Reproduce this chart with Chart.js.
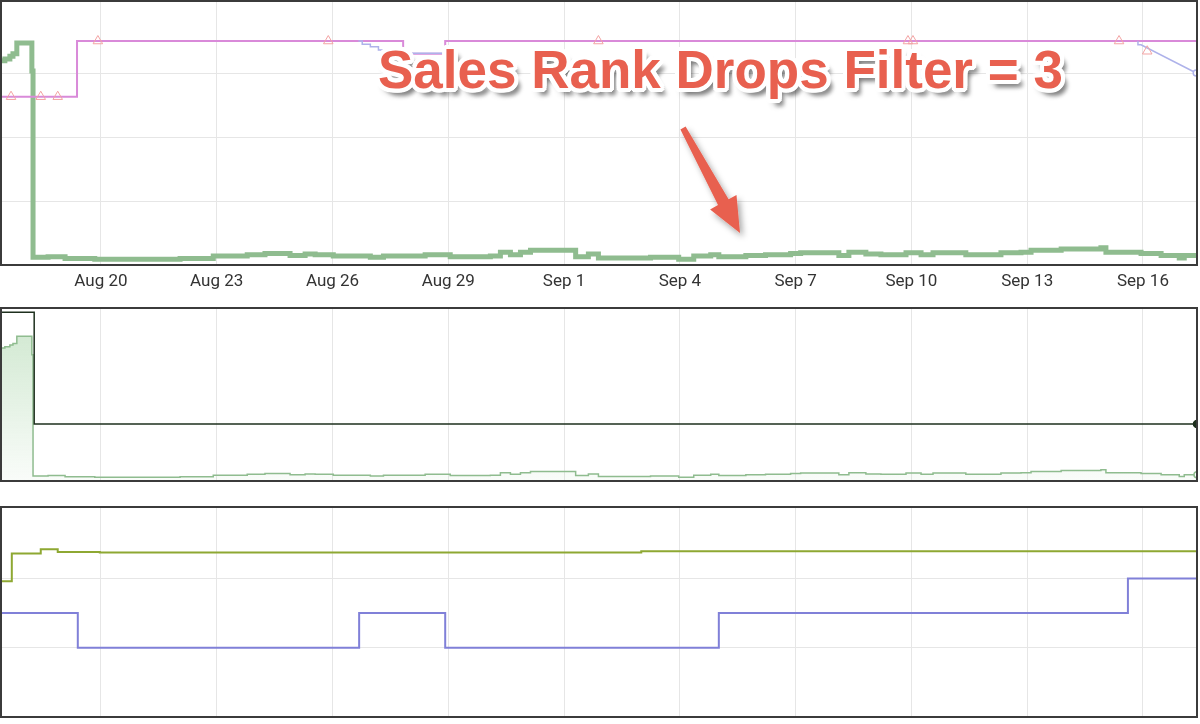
<!DOCTYPE html>
<html>
<head>
<meta charset="utf-8">
<script src="https://cdn.jsdelivr.net/npm/chart.js@4.4.1/dist/chart.umd.min.js"></script>
<style>
    body { margin: 0; background: #fff; width: 1200px; height: 724px; overflow: hidden; position: relative; font-family: Roboto, sans-serif; }
    .panel { position: absolute; left: 0; width: 1200px; }
    #p1 { top: 0; height: 300px; }
    #p2 { top: 307px; height: 175px; }
    #p3 { top: 506px; height: 212px; }
    #title {
        position: absolute; left: 378px; top: 39px; line-height: 53px;
        font: bold 53px "Liberation Sans", Arial, sans-serif; color: #e8604f; white-space: nowrap;
        text-shadow:
            4px 0 0 #fff, -4px 0 0 #fff, 0 4px 0 #fff, 0 -4px 0 #fff,
            3px 3px 0 #fff, -3px 3px 0 #fff, 3px -3px 0 #fff, -3px -3px 0 #fff,
            4px 2px 0 #fff, -4px 2px 0 #fff, 4px -2px 0 #fff, -4px -2px 0 #fff,
            2px 4px 0 #fff, -2px 4px 0 #fff, 2px -4px 0 #fff, -2px -4px 0 #fff,
            6px 7px 4px rgba(0,0,0,0.4), 3px 6px 6px rgba(0,0,0,0.3);
    }
    #arrow { position: absolute; left: 0; top: 0; }
</style>
</head>
<body>
<div class="panel" id="p1"><canvas id="c1"></canvas></div>
<div class="panel" id="p2"><canvas id="c2"></canvas></div>
<div class="panel" id="p3"><canvas id="c3"></canvas></div>
<div id="title">Sales Rank Drops Filter = 3</div>
<svg id="arrow" width="1200" height="300">
    <defs>
        <filter id="sh" x="-50%" y="-50%" width="200%" height="200%">
            <feDropShadow dx="3" dy="4" stdDeviation="3" flood-color="#000" flood-opacity="0.35"/>
        </filter>
    </defs>
    <polygon points="685.6,126.6 728.6,199.3 736.5,195 740,233 710.1,209.4 718,205.1 680.4,129.4" fill="#e8604f" filter="url(#sh)"/>
</svg>
<script>
// x values are days counted from Aug 1 (Sep 1 = 32)
const tickDays = [20, 23, 26, 29, 32, 35, 38, 41, 44, 47];
const tickLabels = ["Aug 20", "Aug 23", "Aug 26", "Aug 29", "Sep 1", "Sep 4", "Sep 7", "Sep 10", "Sep 13", "Sep 16"];
const xMin = 17.41, xMax = 48.4;

// sales rank (green), shown in panel 1 and 2
const rankDays = [17.41,17.51,17.64,17.72,17.82,18.21,18.24,18.63,19.07,19.84,20.75,22.05,22.91,23.79,24.25,24.90,25.29,25.55,26.02,26.98,27.32,28.40,29.05,30.09,30.35,30.61,30.87,31.13,32.30,32.63,32.89,34.24,34.97,35.36,35.80,36.01,36.71,37.22,37.87,38.13,39.12,39.38,39.82,40.21,40.86,41.25,41.56,42.41,42.67,43.32,43.84,44.10,44.88,45.91,46.04,46.95,47.47,47.94,48.07,48.40];
const rankValues = [3.19,3.22,3.26,3.30,3.47,3.03,0.12,0.13,0.10,0.09,0.09,0.10,0.14,0.16,0.18,0.15,0.17,0.16,0.14,0.12,0.14,0.16,0.13,0.14,0.20,0.16,0.20,0.23,0.13,0.17,0.11,0.12,0.09,0.14,0.16,0.13,0.15,0.16,0.18,0.19,0.15,0.20,0.17,0.16,0.19,0.16,0.19,0.16,0.16,0.19,0.20,0.23,0.25,0.27,0.20,0.18,0.15,0.11,0.15,0.15];

// price (pink)
const priceDays = [17.41, 19.38, 27.83, 28.92, 48.4];
const priceValues = [2.63, 3.5, 3.3, 3.5, 3.5];

// new price (lavender), two pieces
const newStepDays = [26.67, 26.77, 26.98, 27.19, 27.5, 28.92];
const newStepValues = [3.5, 3.45, 3.41, 3.36, 3.31, 3.31];
const newTailDays = [46.87, 46.87, 46.95, 48.38];
const newTailValues = [3.5, 3.44, 3.44, 3.0];

// price change markers (triangles)
const markerDays = [17.67, 18.44, 18.88, 19.92, 25.89, 32.89, 40.91, 41.04, 46.38, 47.11];
const markerValues = [2.63, 2.63, 2.63, 3.5, 3.5, 3.5, 3.5, 3.5, 3.5, 3.34];

// panel 2 black line
const offerDays = [17.41, 18.27, 48.4];
const offerValues = [4.05, 1.37, 1.37];

// panel 3
const ratingDays = [17.41, 17.69, 18.44, 18.88, 19.97, 34.0, 48.4];
const ratingValues = [3.92, 4.72, 4.84, 4.76, 4.75, 4.78, 4.80];
const countDays = [17.41, 19.40, 26.69, 28.92, 36.01, 46.61, 48.4];
const countValues = [3, 2, 3, 2, 3, 4, 4];

const pts = (xs, ys) => xs.map((x, i) => ({ x: x, y: ys[i] }));

const framePlugin = {
    id: "frame",
    afterDraw(chart) {
        const { ctx, chartArea: a } = chart;
        ctx.save();
        ctx.strokeStyle = "#3b3b3b";
        ctx.lineWidth = 2;
        ctx.strokeRect(a.left, a.top, a.right - a.left, a.bottom - a.top);
        ctx.restore();
    },
};

function makeOptions(yMax, yStep, yGrid, showTicks) {
    return {
        responsive: true,
        maintainAspectRatio: false,
        animation: false,
        layout: { autoPadding: false, padding: { left: 1, right: 3, top: 1, bottom: showTicks ? 0 : 1 } },
        plugins: { legend: { display: false }, tooltip: { enabled: false } },
        elements: { point: { radius: 0 } },
        scales: {
            x: {
                type: "linear",
                min: xMin,
                max: xMax,
                afterBuildTicks: (s) => { s.ticks = tickDays.map((v) => ({ value: v })); },
                afterFit: (s) => { s.height = showTicks ? 35 : 0; },
                grid: { color: "#e6e6e6", drawTicks: false },
                border: { display: false },
                ticks: {
                    display: showTicks,
                    padding: 7,
                    maxRotation: 0,
                    autoSkip: false,
                    color: "#333",
                    font: { family: "Roboto", size: 17 },
                    callback: (v, i) => tickLabels[i],
                },
            },
            y: {
                min: 0,
                max: yMax,
                afterFit: (s) => { s.width = 0; },
                grid: { display: yGrid, color: "#e6e6e6", drawTicks: false },
                border: { display: false },
                ticks: { display: false, stepSize: yStep },
            },
        },
    };
}

// panel 1
new Chart(document.getElementById("c1"), {
    type: "line",
    data: {
        datasets: [
            {
                data: pts(markerDays, markerValues),
                showLine: false,
                pointStyle: "triangle",
                pointRadius: 5.5,
                pointBorderWidth: 1,
                pointBorderColor: "#f3a3a3",
                pointBackgroundColor: "rgba(255,255,255,0)",
            },
            {
                data: pts(newStepDays, newStepValues),
                stepped: true,
                borderColor: "#aeb2ea",
                borderWidth: 1.5,
            },
            {
                data: pts(newTailDays, newTailValues),
                borderColor: "#aeb2ea",
                borderWidth: 1.5,
                pointRadius: (c) => (c.dataIndex === newTailDays.length - 1 ? 3 : 0),
                pointBackgroundColor: "#fff",
                pointBorderColor: "#aeb2ea",
            },
            {
                data: pts(priceDays, priceValues),
                stepped: true,
                borderColor: "#d98ad9",
                borderWidth: 2,
            },
            {
                data: pts(rankDays, rankValues),
                stepped: true,
                borderColor: "#8fbc8f",
                borderWidth: 5,
            },
        ],
    },
    options: makeOptions(4.125, 1, true, true),
    plugins: [framePlugin],
});

// panel 2
new Chart(document.getElementById("c2"), {
    type: "line",
    data: {
        datasets: [
            {
                data: pts(offerDays, offerValues),
                stepped: true,
                borderColor: "#1e301e",
                borderWidth: 1.5,
                pointRadius: (c) => (c.dataIndex === offerDays.length - 1 ? 3.5 : 0),
                pointBackgroundColor: "#1e301e",
                pointBorderColor: "#1e301e",
            },
            {
                data: pts(rankDays, rankValues),
                stepped: true,
                borderColor: "#8fbc8f",
                borderWidth: 1.5,
                fill: "origin",
                backgroundColor: (c) => {
                    const a = c.chart.chartArea;
                    if (!a) return "rgba(143,188,143,0.2)";
                    const g = c.chart.ctx.createLinearGradient(0, a.top, 0, a.bottom);
                    g.addColorStop(0, "rgba(143,200,143,0.45)");
                    g.addColorStop(1, "rgba(143,200,143,0.05)");
                    return g;
                },
                pointRadius: (c) => (c.dataIndex === rankDays.length - 1 ? 3 : 0),
                pointBackgroundColor: "#fff",
                pointBorderColor: "#8fbc8f",
            },
        ],
    },
    options: makeOptions(4.15, 1, false, false),
    plugins: [framePlugin],
});

// panel 3
new Chart(document.getElementById("c3"), {
    type: "line",
    data: {
        datasets: [
            {
                data: pts(ratingDays, ratingValues),
                stepped: true,
                borderColor: "#8ea832",
                borderWidth: 2,
            },
            {
                data: pts(countDays, countValues),
                stepped: true,
                borderColor: "#8080d8",
                borderWidth: 2,
            },
        ],
    },
    options: makeOptions(6.06, 2, true, false),
    plugins: [framePlugin],
});
</script>
</body>
</html>
